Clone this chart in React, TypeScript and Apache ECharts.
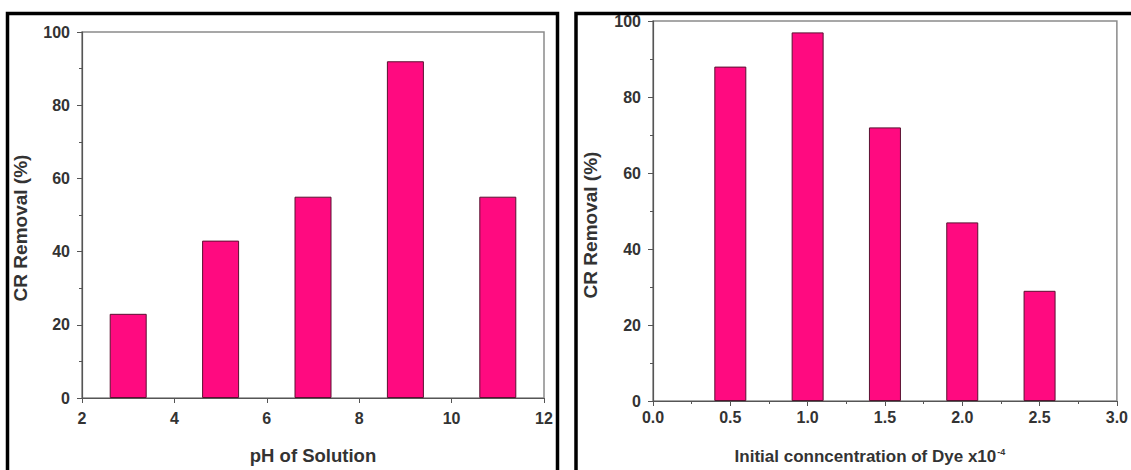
import React, { useEffect, useRef } from "react";
import * as echarts from "echarts";

const phValues = [3, 5, 7, 9, 11];
const phRemoval = [23, 43, 55, 92, 55];
const concValues = [0.5, 1.0, 1.5, 2.0, 2.5];
const concRemoval = [88, 97, 72, 47, 29];

const leftXTitle = "pH of Solution";
const yTitle = "CR Removal (%)";
const rightXTitlePre = "Initial conncentration of Dye x10";
const rightXTitleSup = "-4";

const FONT = "'Liberation Sans', Arial, sans-serif";
const BAR = "#FF0A80";
const AXIS = "#555555";

export default function App() {
  const ref = useRef<HTMLDivElement>(null);
  useEffect(() => {
    if (!ref.current) return;
    const chart = echarts.init(ref.current, undefined, { renderer: "svg" });
    const labelStyle = {
      color: "#333",
      fontFamily: FONT,
      fontWeight: "bold" as const,
      fontSize: 16,
    };
    const axisLine = { show: true, onZero: false, lineStyle: { color: AXIS, width: 1.2 } };
    const axisTick = { show: true, inside: false, length: 5, lineStyle: { color: AXIS } };
    const minorTick = { show: true, splitNumber: 2, length: 3, lineStyle: { color: AXIS } };
    const nameStyle = {
      color: "#333",
      fontFamily: FONT,
      fontWeight: "bold" as const,
      fontSize: 17,
    };
    chart.setOption({
      animation: false,
      backgroundColor: "#ffffff",
      grid: [
        { left: 82, top: 32, width: 462, height: 374, show: true, borderColor: "#8a8a8a", borderWidth: 1.5, backgroundColor: "transparent" },
        { left: 653, top: 21, width: 471, height: 384, show: true, borderColor: "#8a8a8a", borderWidth: 1.5, backgroundColor: "transparent" },
      ],
      xAxis: [
        {
          type: "value", gridIndex: 0, min: 2, max: 12, interval: 2,
          axisLine, axisTick, minorTick: { show: false }, splitLine: { show: false },
          axisLabel: { ...labelStyle, margin: 12 },
          name: leftXTitle, nameLocation: "middle", nameGap: 48,
          nameTextStyle: { ...nameStyle, fontSize: 18.5 },
        },
        {
          type: "value", gridIndex: 1, min: 0, max: 3, interval: 0.5,
          axisLine, axisTick, minorTick, splitLine: { show: false },
          axisLabel: { ...labelStyle, margin: 8, formatter: (v: number) => v.toFixed(1) },
          name: rightXTitlePre + "{sup|" + rightXTitleSup + "}", nameLocation: "middle", nameGap: 46,
          nameTextStyle: {
            ...nameStyle,
            padding: [0, 30, 0, 0],
            rich: { sup: { ...nameStyle, fontSize: 9, verticalAlign: "top", padding: [0, 0, 10, 1] } },
          },
        },
      ],
      yAxis: [
        {
          type: "value", gridIndex: 0, min: 0, max: 100, interval: 20,
          axisLine, axisTick, minorTick, splitLine: { show: false },
          axisLabel: { ...labelStyle, margin: 12 },
          name: yTitle, nameLocation: "middle", nameGap: 52,
          nameTextStyle: { ...nameStyle, fontSize: 19, padding: [0, 26, 0, 0] },
        },
        {
          type: "value", gridIndex: 1, min: 0, max: 100, interval: 20,
          axisLine, axisTick, minorTick, splitLine: { show: false },
          axisLabel: { ...labelStyle, margin: 12 },
          name: yTitle, nameLocation: "middle", nameGap: 53,
          nameTextStyle: { ...nameStyle, fontSize: 19, padding: [0, 28, 0, 0] },
        },
      ],
      graphic: [
        { type: "rect", shape: { x: 7.5, y: 13.5, width: 550, height: 470 }, style: { fill: "none", stroke: "#000", lineWidth: 3.5 }, silent: true, z: 100 },
        { type: "rect", shape: { x: 576, y: 13.5, width: 600, height: 470 }, style: { fill: "none", stroke: "#000", lineWidth: 3.5 }, silent: true, z: 100 },
      ],
      series: [
        {
          type: "bar", xAxisIndex: 0, yAxisIndex: 0, barWidth: 37,
          data: phValues.map((x, i) => [x, phRemoval[i]]),
          itemStyle: { color: BAR, borderColor: "#5a1030", borderWidth: 1 },
        },
        {
          type: "bar", xAxisIndex: 1, yAxisIndex: 1, barWidth: 32,
          data: concValues.map((x, i) => [x, concRemoval[i]]),
          itemStyle: { color: BAR, borderColor: "#5a1030", borderWidth: 1 },
        },
      ],
    });
    return () => chart.dispose();
  }, []);
  return (
    <div
      ref={ref}
      style={{ position: "absolute", left: 0, top: 0, width: 1131, height: 470 }}
    />
  );
}
